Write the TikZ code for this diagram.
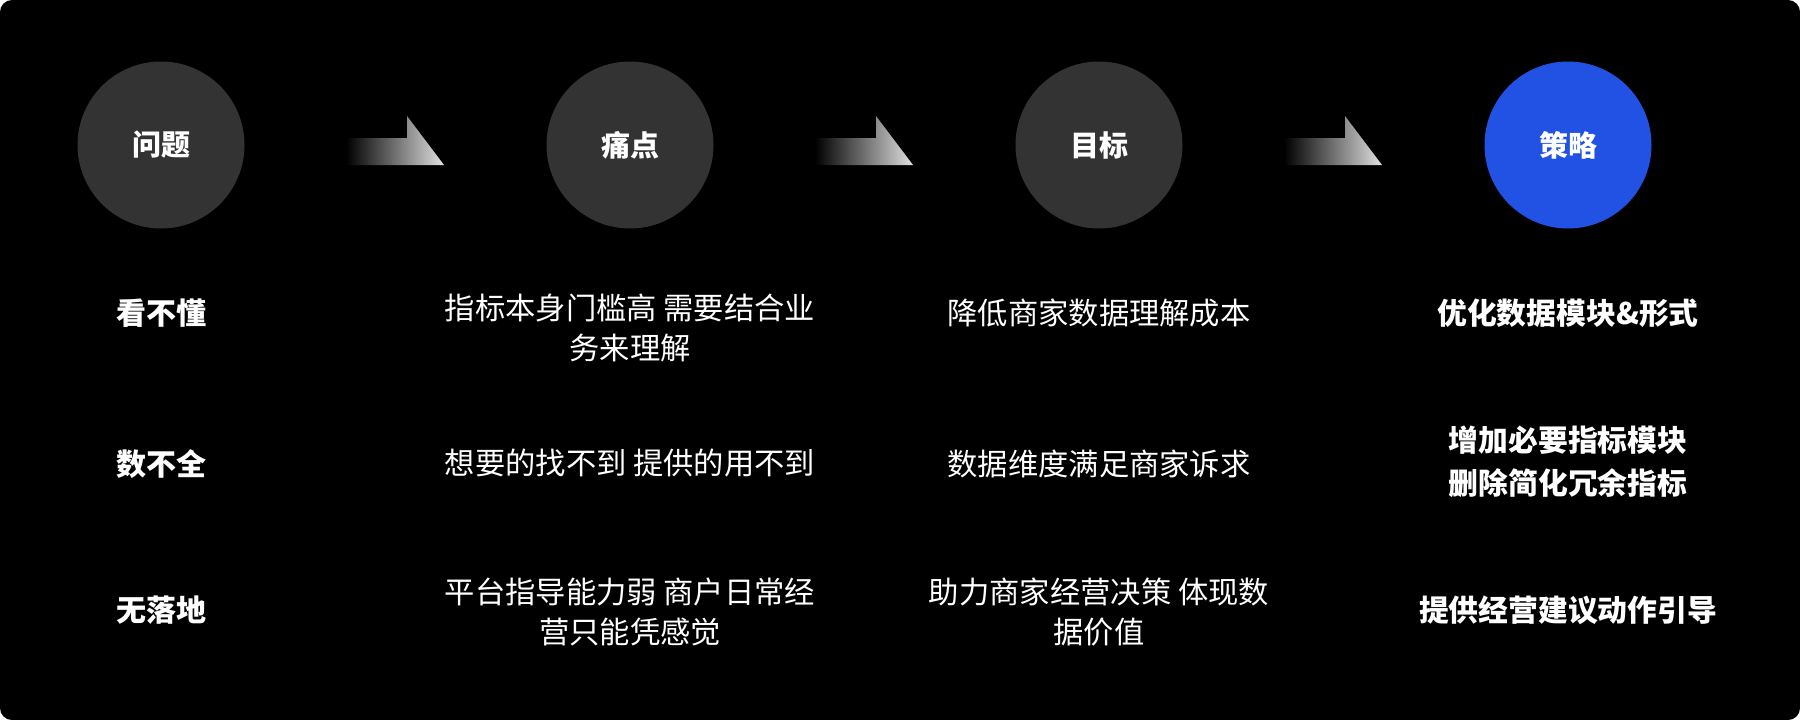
\documentclass[tikz,border=0pt]{standalone}
\usepackage{fontspec}
\setmainfont{Noto Sans CJK SC}
\usetikzlibrary{positioning}
\definecolor{circgray}{RGB}{51,51,51}
\definecolor{stratblue}{RGB}{33,82,227}
\definecolor{arrowend}{RGB}{225,225,225}
\tikzset{
  stage/.style={circle, minimum size=167pt, inner sep=0pt, fill=circgray, text=white, font=\fontsize{29}{40}\selectfont\bfseries},
  stagehi/.style={stage, fill=stratblue},
  rowlabel/.style={text=white, align=center, inner sep=0pt, font=\fontsize{30}{40}\selectfont\bfseries},
  celltext/.style={text=white, align=center, inner sep=0pt, font=\fontsize{30.3}{40}\selectfont},
  strattext/.style={text=white, align=center, inner sep=0pt, font=\fontsize{29.8}{43}\selectfont\bfseries},
}
\begin{document}
\begin{tikzpicture}[x=1pt,y=-1pt]
\fill[white] (0,0) rectangle (1800,720);
\fill[black, rounded corners=12pt] (0,0) rectangle (1800,720);
\useasboundingbox (0,0) rectangle (1800,720);

\node[stage] (c1) at (161,145) {问题};
\node[stage] (c2) at (630,145) {痛点};
\node[stage] (c3) at (1099,145) {目标};
\node[stagehi] (c4) at (1568,145) {策略};

\foreach \cx in {161,630,1099}{
  \shade[left color=black, right color=arrowend]
    ({\cx+185},138) -- ({\cx+246},138) -- ({\cx+246},116) -- ({\cx+283},165) -- ({\cx+185},165) -- cycle;
}

% column 1
\node[rowlabel] (r1c1) at (161,313) {看不懂};
\node[rowlabel] (r2c1) at (161,464) {数不全};
\node[rowlabel] (r3c1) at (161,610) {无落地};

% column 2
\node[celltext] (r1c2) at (630,328) {指标本身门槛高 需要结合业\\务来理解};
\node[celltext] (r2c2) at (630,463) {想要的找不到 提供的用不到};
\node[celltext] (r3c2) at (630,612) {平台指导能力弱 商户日常经\\营只能凭感觉};

% column 3
\node[celltext] (r1c3) at (1099,313) {降低商家数据理解成本};
\node[celltext] (r2c3) at (1099,464) {数据维度满足商家诉求};
\node[celltext] (r3c3) at (1099,612) {助力商家经营决策 体现数\\据价值};

% column 4
\node[strattext] (r1c4) at (1568,313) {优化数据模块\&形式};
\node[strattext] (r2c4) at (1568,462) {增加必要指标模块\\删除简化冗余指标};
\node[strattext] (r3c4) at (1568,610) {提供经营建议动作引导};
\end{tikzpicture}
\end{document}
